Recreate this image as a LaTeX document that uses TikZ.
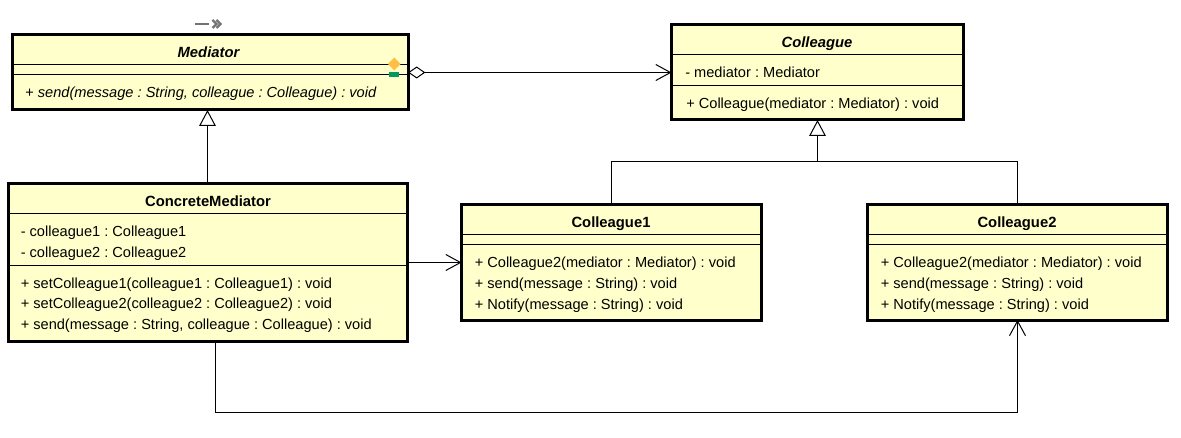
\documentclass[tikz,border=0pt]{standalone}
\usepackage{fontspec}
\setmainfont{Liberation Sans}
\usetikzlibrary{calc,positioning,arrows.meta}
\definecolor{clsfill}{HTML}{FFFFCB}
\definecolor{grn}{HTML}{00995F}
\definecolor{org}{HTML}{FFBE46}

\begin{document}
\frenchspacing
\begin{tikzpicture}[x=0.75pt,y=-0.75pt,
  cls/.style={draw=black,line width=2.25pt,fill=clsfill,rectangle,inner sep=0pt,outer sep=0pt},
  ttl/.style={anchor=base,inner sep=0pt,yshift=-0.6pt,font=\fontsize{11.1}{13}\selectfont\bfseries},
  mem/.style={anchor=base west,inner sep=0pt,yshift=-0.6pt,font=\fontsize{10.95}{13}\selectfont},
  sep/.style={line width=0.75pt},
  lnk/.style={line width=0.75pt},
  gen/.style={{Triangle[open,fill=white,length=12pt,width=12.5pt]}-},
  nav/.style={-{Straight Barb[length=11pt,width=12pt,line width=0.75pt]}}]
  \useasboundingbox (0,0) rectangle (1181,438);

  % Boxes
  \node[cls,minimum width=297pt,minimum height=56.25pt] (med) at (210,72.5) {};
  \node[cls,minimum width=299.25pt,minimum height=118.5pt] (cmed) at (207.5,262.5) {};
  \node[cls,minimum width=219pt,minimum height=71.25pt] (coll) at (817.5,72.5) {};
  \node[cls,minimum width=225pt,minimum height=86.25pt] (coll1) at (611.5,262.5) {};
  \node[cls,minimum width=225pt,minimum height=86.25pt] (coll2) at (1017.5,262.5) {};

  % Separators
  \draw[sep] (med.west |- 0,64.5) -- (med.east |- 0,64.5);
  \draw[sep] (med.west |- 0,74.5) -- (med.east |- 0,74.5);
  \draw[sep] (cmed.west |- 0,213.5) -- (cmed.east |- 0,213.5);
  \draw[sep] (cmed.west |- 0,265.5) -- (cmed.east |- 0,265.5);
  \draw[sep] (coll.west |- 0,54.5) -- (coll.east |- 0,54.5);
  \draw[sep] (coll.west |- 0,85.5) -- (coll.east |- 0,85.5);
  \draw[sep] (coll1.west |- 0,234.5) -- (coll1.east |- 0,234.5);
  \draw[sep] (coll1.west |- 0,244.5) -- (coll1.east |- 0,244.5);
  \draw[sep] (coll2.west |- 0,234.5) -- (coll2.east |- 0,234.5);
  \draw[sep] (coll2.west |- 0,244.5) -- (coll2.east |- 0,244.5);

  % Mediator
  \node[ttl] (medname) at (208.5,56.5) {\itshape Mediator};
  \node[mem] (medop) at (25,97) {+ \itshape send(message : String, colleague : Colleague) : void};

  % ConcreteMediator
  \node[ttl] (cmedname) at (208,206) {ConcreteMediator};
  \node[mem] (cmedat1) at (20.5,235.5) {- colleague1 : Colleague1};
  \node[mem] (cmedat2) at (20.5,256.5) {- colleague2 : Colleague2};
  \node[mem] (cmedop1) at (20.5,287.5) {+ setColleague1(colleague1 : Colleague1) : void};
  \node[mem] (cmedop2) at (20.5,308) {+ setColleague2(colleague2 : Colleague2) : void};
  \node[mem] (cmedop3) at (20.5,329) {+ send(message : String, colleague : Colleague) : void};

  % Colleague
  \node[ttl] (collname) at (817,46.5) {\itshape Colleague};
  \node[mem] (collat) at (685,76.5) {- mediator : Mediator};
  \node[mem] (collop) at (686,107.5) {+ Colleague(mediator : Mediator) : void};

  % Colleague1
  \node[ttl] (coll1name) at (611,226.5) {Colleague1};
  \node[mem] (coll1op1) at (474.5,266.5) {+ Colleague2(mediator : Mediator) : void};
  \node[mem] (coll1op2) at (474.5,287.5) {+ send(message : String) : void};
  \node[mem] (coll1op3) at (474.5,308.5) {+ Notify(message : String) : void};

  % Colleague2
  \node[ttl] (coll2name) at (1017,226.5) {Colleague2};
  \node[mem] (coll2op1) at (880.5,266.5) {+ Colleague2(mediator : Mediator) : void};
  \node[mem] (coll2op2) at (880.5,287.5) {+ send(message : String) : void};
  \node[mem] (coll2op3) at (880.5,308.5) {+ Notify(message : String) : void};

  % Connectors
  \coordinate (join) at (coll.south |- 0,161.5);
  \coordinate (out) at (215.5,342);
  \coordinate (low) at (215.5,412.5);
  \draw[lnk,{Diamond[open,fill=white,length=13pt,width=9pt,line width=0.75pt]}-{Straight Barb[length=11pt,width=12pt,line width=0.75pt]}] (med.east) -- (coll.west);
  \draw[lnk,gen] (med.south -| cmed.north) -- (cmed.north);
  \draw[lnk,gen] (coll.south) -- (join);
  \draw[lnk] (coll1.north) |- (join);
  \draw[lnk] (coll2.north) |- (join);
  \draw[lnk,nav] (cmed.east) -- (coll1.west);
  \draw[lnk,nav] (out) -- (low) -| (coll2.south);

  % Small marks
  \fill[org] (394.3,57.5) -- (400.5,64) -- (394.3,70.5) -- (388,64) -- cycle;
  \fill[grn] (389,72) rectangle (399,77);
  \draw[line width=2pt,color=black!55] (195,24) -- (209,24);
  \draw[line width=1.8pt,color=black!55] (212.5,20) -- (216.5,24) -- (212.5,28);
  \draw[line width=1.8pt,color=black!55] (216.5,20) -- (220.5,24) -- (216.5,28);
\end{tikzpicture}
\end{document}
